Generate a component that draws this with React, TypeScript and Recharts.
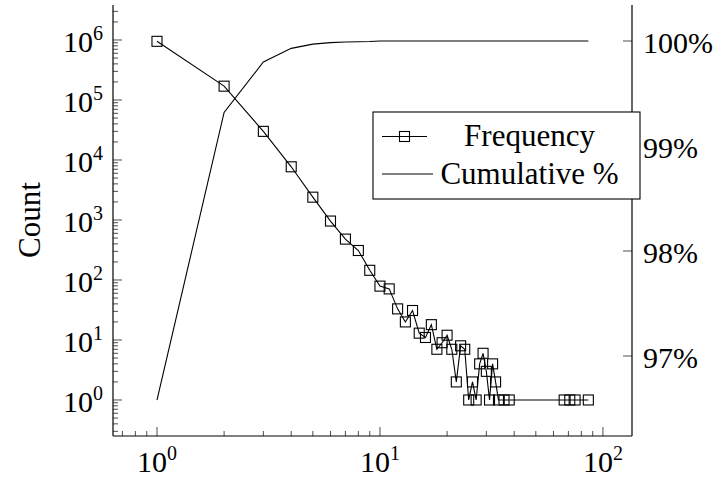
import React from 'react';
import { LineChart, Line, XAxis, YAxis } from 'recharts';

// ---- data ----
const sizes = [1, 2, 3, 4, 5, 6, 7, 8, 9, 10, 11, 12, 13, 14, 15, 16, 17, 18, 19, 20, 21, 22, 23, 24, 25, 26, 27, 28, 29, 30, 31, 32, 33, 34, 36, 38, 67, 71, 75, 86];
const frequency = [950000, 170000, 30000, 7700, 2400, 960, 480, 310, 145, 79, 71, 33, 20, 31, 13, 11, 18, 7, 9, 12, 7, 2, 8, 7, 1, 2, 1, 4, 6, 3, 1, 4, 2, 1, 1, 1, 1, 1, 1, 1];
const cumulative = [96.58, 99.32, 99.8, 99.93, 99.97, 99.985, 99.99, 99.993, 99.995, 100, 100, 100, 100, 100, 100, 100, 100, 100, 100, 100, 100, 100, 100, 100, 100, 100, 100, 100, 100, 100, 100, 100, 100, 100, 100, 100, 100, 100, 100, 100];

const xMajorTicks = [1, 10, 100];
const xMinorTicks = [0.7, 0.8, 0.9, 2, 3, 4, 5, 6, 7, 8, 9, 20, 30, 40, 50, 60, 70, 80, 90];
const yMajorTicks = [1, 10, 100, 1000, 10000, 100000, 1000000];
const minorMultipliers = [2, 3, 4, 5, 6, 7, 8, 9];
const yDecades = [0.1, 1, 10, 100, 1000, 10000, 100000, 1000000];
const pctTicks = [97, 98, 99, 100];
const pctLabels = ['97%', '98%', '99%', '100%'];

const X_DOMAIN: [number, number] = [0.635, 135];
const Y_DOMAIN: [number, number] = [0.251, 3.83e6];
const PCT_DOMAIN: [number, number] = [96.238, 100.343];

const yMinorTicks = yDecades
  .flatMap((d) => minorMultipliers.map((m) => m * d))
  .filter((v) => v > Y_DOMAIN[0] && v < Y_DOMAIN[1]);

const data = sizes.map((s, i) => ({ size: s, freq: frequency[i], cum: cumulative[i] }));

const FONT = "'Liberation Serif', serif";
const TXT = { fontFamily: FONT };
const MAJOR = 9;
const MINOR = 5;

const isMajor = (v: number, majors: number[]) => majors.some((m) => Math.abs(m - v) / m < 1e-9);
const expOf = (v: number) => Math.round(Math.log10(v));

const PowLabel = ({ x, y, v, anchor }: any) => (
  <text x={x} y={y} textAnchor={anchor} style={TXT} fontSize={30} fill="#000">
    10<tspan dy={-12} fontSize={20}>{expOf(v)}</tspan>
  </text>
);

const BottomTick = (props: any) => {
  const { x, y, payload } = props;
  const major = isMajor(payload.value, xMajorTicks);
  return (
    <g>
      <line x1={x} x2={x} y1={y} y2={y - (major ? MAJOR : MINOR)} stroke="#000" strokeWidth={0.7} />
      {major && <PowLabel x={x} y={y + 36} v={payload.value} anchor="middle" />}
    </g>
  );
};

const TopTick = (props: any) => {
  const { x, y, payload } = props;
  const major = isMajor(payload.value, xMajorTicks);
  return <line x1={x} x2={x} y1={y} y2={y + (major ? MAJOR : MINOR)} stroke="#000" strokeWidth={0.7} />;
};

const LeftTick = (props: any) => {
  const { x, y, payload } = props;
  const major = isMajor(payload.value, yMajorTicks);
  return (
    <g>
      <line x1={x} x2={x + (major ? MAJOR : MINOR)} y1={y} y2={y} stroke="#000" strokeWidth={0.7} />
      {major && <PowLabel x={x - 10} y={y + 12} v={payload.value} anchor="end" />}
    </g>
  );
};

const MirrorTick = (props: any) => {
  const { x, y, payload } = props;
  const major = isMajor(payload.value, yMajorTicks);
  return <line x1={x} x2={x - (major ? MAJOR : MINOR)} y1={y} y2={y} stroke="#000" strokeWidth={0.7} />;
};

const PctTick = (props: any) => {
  const { x, y, payload, index } = props;
  return (
    <g>
      <line x1={x} x2={x - MAJOR} y1={y} y2={y} stroke="#000" strokeWidth={0.7} />
      <text x={x + 11} y={y + 12} textAnchor="start" style={TXT} fontSize={30} fill="#000">
        {pctLabels[pctTicks.indexOf(payload.value)] ?? pctLabels[index]}
      </text>
    </g>
  );
};

const SquareDot = (props: any) => {
  const { cx, cy, index } = props;
  if (cx == null || cy == null) return <g key={`n-${index}`} />;
  return <rect key={`d-${index}`} x={cx - 5} y={cy - 5} width={10} height={10} fill="none" stroke="#000" strokeWidth={1.1} />;
};

export default function App() {
  return (
    <div style={{ position: 'absolute', left: 0, top: 0, width: 717, height: 478, background: '#fff', fontFamily: FONT }}>
      <LineChart width={717} height={478} data={data} margin={{ top: 5, right: 0, bottom: 0, left: 0 }}>
        <XAxis
          xAxisId="bottom"
          dataKey="size"
          type="number"
          scale="log"
          domain={X_DOMAIN}
          allowDataOverflow
          ticks={[...xMinorTicks, ...xMajorTicks]}
          interval={0}
          tick={<BottomTick />}
          tickLine={false}
          tickSize={0}
          tickMargin={0}
          height={42}
          axisLine={{ stroke: '#000', strokeWidth: 1.2 }}
        />
        <XAxis
          xAxisId="top"
          orientation="top"
          dataKey="size"
          type="number"
          scale="log"
          domain={X_DOMAIN}
          allowDataOverflow
          ticks={[...xMinorTicks, ...xMajorTicks]}
          interval={0}
          tick={<TopTick />}
          tickLine={false}
          tickSize={0}
          tickMargin={0}
          height={0}
          axisLine={{ stroke: '#000', strokeWidth: 1.2 }}
        />
        <YAxis
          yAxisId="left"
          type="number"
          scale="log"
          domain={Y_DOMAIN}
          allowDataOverflow
          ticks={[...yMinorTicks, ...yMajorTicks]}
          interval={0}
          tick={<LeftTick />}
          tickLine={false}
          tickSize={0}
          tickMargin={0}
          width={113}
          axisLine={{ stroke: '#000', strokeWidth: 1.2 }}
        />
        <YAxis
          yAxisId="mirror"
          orientation="right"
          type="number"
          scale="log"
          domain={Y_DOMAIN}
          allowDataOverflow
          ticks={[...yMinorTicks, ...yMajorTicks]}
          interval={0}
          tick={<MirrorTick />}
          tickLine={false}
          tickSize={0}
          tickMargin={0}
          width={0}
          axisLine={false}
        />
        <YAxis
          yAxisId="right"
          orientation="right"
          type="number"
          domain={PCT_DOMAIN}
          allowDataOverflow
          ticks={pctTicks}
          interval={0}
          tick={<PctTick />}
          tickLine={false}
          tickSize={0}
          tickMargin={0}
          width={85}
          axisLine={{ stroke: '#000', strokeWidth: 1.2 }}
        />
        <Line
          xAxisId="bottom"
          yAxisId="right"
          dataKey="cum"
          type="linear"
          stroke="#000"
          strokeWidth={1.1}
          dot={false}
          isAnimationActive={false}
        />
        <Line
          xAxisId="bottom"
          yAxisId="left"
          dataKey="freq"
          type="linear"
          stroke="#000"
          strokeWidth={1.1}
          dot={SquareDot}
          isAnimationActive={false}
        />
      </LineChart>
      <svg width={717} height={478} style={{ position: 'absolute', left: 0, top: 0, pointerEvents: 'none' }}>
        <g transform="translate(40, 220) rotate(-90)">
          <text x={0} y={0} textAnchor="middle" style={TXT} fontSize={31} fill="#000">Count</text>
        </g>
        <g transform="translate(373, 112)">
          <rect x={0} y={0} width={267} height={87} fill="#fff" stroke="#000" strokeWidth={1.1} />
          <line x1={9} x2={54} y1={24.5} y2={24.5} stroke="#000" strokeWidth={1.1} />
          <rect x={26.5} y={19.5} width={10} height={10} fill="none" stroke="#000" strokeWidth={1.1} />
          <text x={156.5} y={34} textAnchor="middle" style={TXT} fontSize={31} fill="#000">Frequency</text>
          <line x1={9} x2={60} y1={62} y2={62} stroke="#000" strokeWidth={1.1} />
          <text x={156.5} y={71.5} textAnchor="middle" style={TXT} fontSize={31} fill="#000">Cumulative %</text>
        </g>
      </svg>
    </div>
  );
}
